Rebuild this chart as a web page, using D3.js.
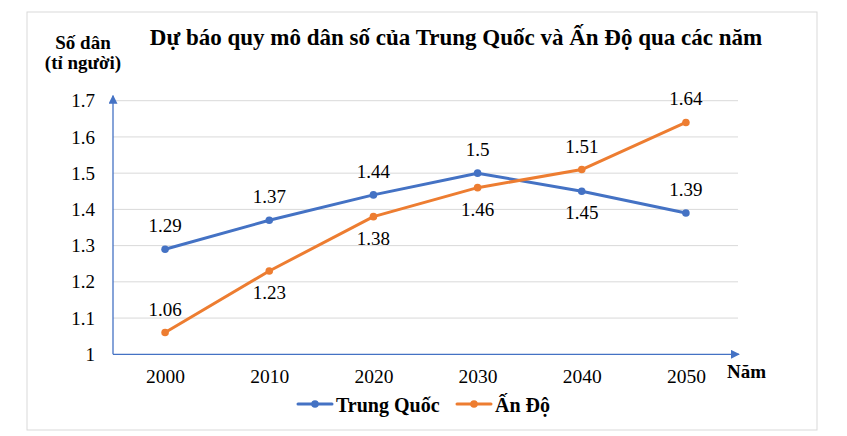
<!DOCTYPE html>
<html><head><meta charset="utf-8">
<script src="https://cdn.jsdelivr.net/npm/d3@7"></script>
<style>body{margin:0;background:#fff}</style>
</head><body>
<script>
const years = ["2000","2010","2020","2030","2040","2050"];
const chinaValues = [1.29,1.37,1.44,1.5,1.45,1.39];
const indiaValues = [1.06,1.23,1.38,1.46,1.51,1.64];
const chinaLabelPos = ["above","above","above","above","below","above"];
const indiaLabelPos = ["above","below","below","below","above","above"];
const yTicks = [1,1.1,1.2,1.3,1.4,1.5,1.6,1.7];
const seriesNames = ["Trung Quốc","Ấn Độ"];
const colors = ["#4472C4","#ED7D31"];

const FF='"Liberation Serif"';
const W=847,H=436;
const svg=d3.select("body").append("svg").attr("width",W).attr("height",H);
svg.append("rect").attr("x",27).attr("y",12).attr("width",790).attr("height",418)
  .attr("fill","#fff").attr("stroke","#d9d9d9").attr("stroke-width",1);

const x=d3.scalePoint().domain(years).range([113,738]).padding(0.5);
const y=d3.scaleLinear().domain([1,1.7]).range([354.3,100.7]);

// gridlines
svg.append("g").selectAll("line").data(yTicks.slice(1)).join("line")
  .attr("x1",113).attr("x2",738).attr("y1",d=>y(d)).attr("y2",d=>y(d))
  .attr("stroke","#d9d9d9").attr("stroke-width",1);

// y tick labels
const yAxis=d3.axisLeft(y).tickValues(yTicks).tickSize(0).tickPadding(18).tickFormat(d=>String(+d.toFixed(1)));
const gy=svg.append("g").attr("transform","translate(113,0)").call(yAxis);
gy.select(".domain").remove();
gy.selectAll("text").attr("font-size",19).attr("fill","#000").style("font-family",FF);

// x tick labels
const xAxis=d3.axisBottom(x).tickSize(0).tickPadding(15);
const gx=svg.append("g").attr("transform","translate(0,354.3)").call(xAxis);
gx.select(".domain").remove();
gx.selectAll("text").attr("font-size",19.5).attr("fill","#000").style("font-family",FF);

// axes with arrows
const defs=svg.append("defs");
defs.append("marker").attr("id","arr").attr("viewBox","0 0 10 10").attr("refX",9).attr("refY",5)
  .attr("markerWidth",9).attr("markerHeight",9).attr("markerUnits","userSpaceOnUse").attr("orient","auto")
  .append("path").attr("d","M0,0L10,5L0,10Z").attr("fill","#4472C4");
svg.append("line").attr("x1",113).attr("y1",354.3).attr("x2",113).attr("y2",y(1.7)-5)
  .attr("stroke","#4472C4").attr("stroke-width",1.3).attr("marker-end","url(#arr)");
svg.append("line").attr("x1",113).attr("y1",354.3).attr("x2",739).attr("y2",354.3)
  .attr("stroke","#4472C4").attr("stroke-width",1.3).attr("marker-end","url(#arr)");

// lines
const series=[{vals:chinaValues,pos:chinaLabelPos,c:colors[0]},{vals:indiaValues,pos:indiaLabelPos,c:colors[1]}];
const line=d3.line().x((d,i)=>x(years[i])).y(d=>y(d));
series.forEach(s=>{
  svg.append("path").attr("d",line(s.vals)).attr("fill","none").attr("stroke",s.c)
    .attr("stroke-width",3).attr("stroke-linecap","round").attr("stroke-linejoin","round");
  svg.append("g").selectAll("circle").data(s.vals).join("circle")
    .attr("cx",(d,i)=>x(years[i])).attr("cy",d=>y(d)).attr("r",3.8).attr("fill",s.c);
  svg.append("g").selectAll("text").data(s.vals).join("text")
    .attr("x",(d,i)=>x(years[i])).attr("y",(d,i)=>y(d)+(s.pos[i]==="above"?-17:28))
    .attr("text-anchor","middle").attr("font-size",19).attr("fill","#000").style("font-family",FF).text(d=>String(d));
});

// titles
function label(t,xx,yy,fs,anchor){
  return svg.append("text").attr("x",xx).attr("y",yy).attr("text-anchor",anchor||"middle")
    .attr("font-size",fs).attr("font-weight","bold").style("font-family",FF).text(t);
}
label("Dự báo quy mô dân số của Trung Quốc và Ấn Độ qua các năm",456,45,23);
label("Số dân",83,49,19);
label("(tỉ người)",83,69,19);
label("Năm",727,378,19,"start");

// legend
const leg=[{x:298},{x:457}];
seriesNames.forEach((n,i)=>{
  const g=svg.append("g").attr("transform",`translate(${leg[i].x},404)`);
  g.append("line").attr("x1",0).attr("x2",34).attr("y1",0).attr("y2",0).attr("stroke",colors[i]).attr("stroke-width",3).attr("stroke-linecap","round");
  g.append("circle").attr("cx",17).attr("cy",0).attr("r",3.8).attr("fill",colors[i]);
  g.append("text").attr("x",38).attr("y",8).attr("font-size",20).attr("font-weight","bold").style("font-family",FF).text(n);
});
</script>
</body></html>
